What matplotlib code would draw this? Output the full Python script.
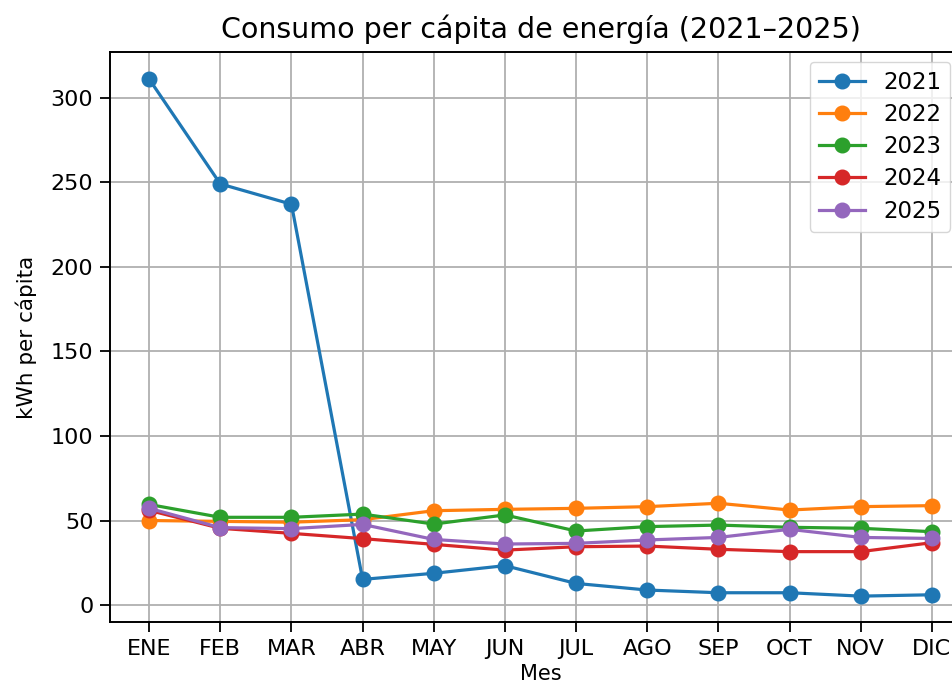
import matplotlib
matplotlib.use("Agg")
import matplotlib.pyplot as plt

meses = ["ENE", "FEB", "MAR", "ABR", "MAY", "JUN", "JUL", "AGO", "SEP", "OCT", "NOV", "DIC"]

anios = ["2021", "2022", "2023", "2024", "2025"]
consumo_2021 = [311, 249, 237, 15.2, 18.8, 23.3, 12.8, 8.9, 7.3, 7.3, 5.3, 6.1]
consumo_2022 = [50, 49.5, 49, 50.5, 55.8, 56.6, 57.2, 58.2, 60.2, 56.2, 58.2, 58.8]
consumo_2023 = [59.5, 51.9, 51.9, 53.8, 47.9, 53.3, 43.8, 46.4, 47.3, 46, 45.4, 43.4]
consumo_2024 = [56, 45.4, 42.4, 39.3, 35.9, 32.5, 34.5, 34.9, 33, 31.6, 31.6, 36.9]
consumo_2025 = [57.2, 45.8, 45.2, 47.7, 38.8, 36.1, 36.5, 38.5, 40, 44.8, 40, 39.4]

series = [consumo_2021, consumo_2022, consumo_2023, consumo_2024, consumo_2025]
colores = ["#1f77b4", "#ff7f0e", "#2ca02c", "#d62728", "#9467bd"]

fig = plt.figure(figsize=(9.53, 6.84), dpi=100)
# axes extends past the right edge, like the cropped original
ax = fig.add_axes([110 / 953, 1 - 622 / 684, 861 / 953, 570 / 684])

for nombre, valores, color in zip(anios, series, colores):
    ax.plot(meses, valores, marker="o", color=color, linewidth=2.3,
            markersize=10.5, label=nombre)

ax.set_ylim(-10, 327)
ax.set_xlim(-0.55, 11.55)
ax.set_yticks([0, 50, 100, 150, 200, 250, 300])
ax.grid(True, color="#b0b0b0", linewidth=1.3)
ax.tick_params(labelsize=16, length=7, width=1.3, pad=5)
for s in ax.spines.values():
    s.set_linewidth(1.4)

ax.set_title("Consumo per cápita de energía (2021–2025)", fontsize=20.5, pad=10)
ax.set_xlabel("Mes", fontsize=15, labelpad=4)
ax.set_ylabel("kWh per cápita", fontsize=15.5, labelpad=10)

ax.legend(loc="upper right", bbox_to_anchor=(0.976, 0.983), borderaxespad=0,
          fontsize=16.5, markerscale=1.0, handlelength=2.0, labelspacing=0.4,
          framealpha=0.8)

fig.savefig("out.png", dpi=100)
